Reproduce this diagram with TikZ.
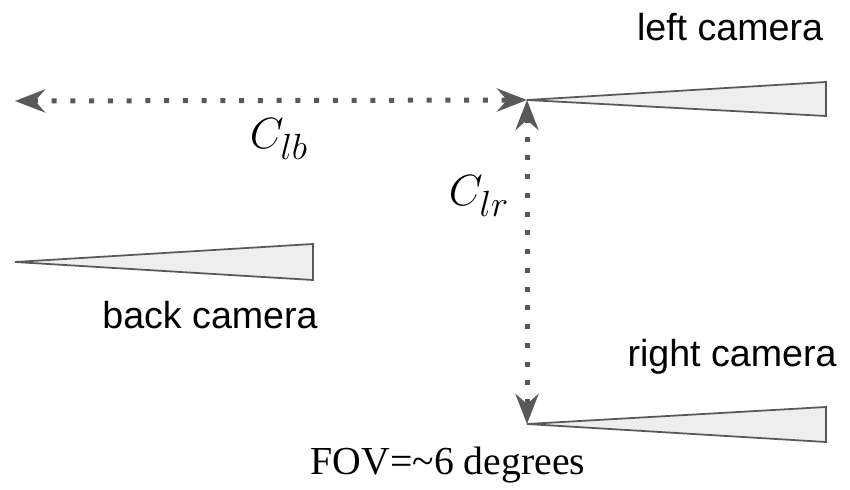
\documentclass[tikz,border=0pt]{standalone}
\usepackage{amsmath, amssymb}
\usepackage{xcolor}
\usepackage{fontspec}
\setmainfont{Liberation Sans}
\newfontfamily\fovfont{Liberation Serif}
\usetikzlibrary{arrows.meta, positioning, calc}
\definecolor{lensgray}{HTML}{595959}
\definecolor{lensfill}{HTML}{EEEEEE}
\tikzset{
  cone/.style={draw=lensgray, fill=lensfill, line width=1pt, line join=miter},
  baseline/.style={draw=lensgray, line width=0.1cm, dash pattern=on 0.1cm off 0.275cm,
    {Stealth[length=0.6cm, width=0.46cm, inset=0.2cm]}-{Stealth[length=0.6cm, width=0.46cm, inset=0.2cm]}},
  camlabel/.style={font=\fontsize{21.4}{24}\selectfont, inner sep=0pt},
  mathlabel/.style={font=\fontsize{28.6}{31}\selectfont, inner sep=0pt}
}
\begin{document}
\begin{tikzpicture}
      \useasboundingbox (0,0) rectangle (17,9.78);

      \coordinate (leftcam) at (10.54,7.78);
      \coordinate (backcam) at (0.30,4.54);
      \coordinate (rightcam) at (10.54,1.30);
      \coordinate (farend) at (0.30,7.76);

      \draw [cone] (leftcam) -- (16.52,8.14) -- (16.52,7.46) -- cycle;
      \draw [cone] (backcam) -- (6.26,4.90) -- (6.26,4.18) -- cycle;
      \draw [cone] (rightcam) -- (16.52,1.64) -- (16.52,0.94) -- cycle;

      \draw [baseline] (farend) -- (leftcam);
      \draw [baseline] (leftcam) -- (rightcam);

      \node [camlabel] (leftlabel) at (14.6,9.24) {left camera};
      \node [camlabel] (backlabel) at (4.2,3.48) {back camera};
      \node [camlabel] (rightlabel) at (14.64,2.64) {right camera};
      \node [mathlabel] (clb) at (5.58,7.0) {$C_{lb}$};
      \node [mathlabel] (clr) at (9.58,5.86) {$C_{lr}$};
      \node [inner sep=0pt, font=\fontsize{22.6}{25}\fovfont] (fov) at (8.96,0.47) {FOV=\textasciitilde 6 degrees};
    \end{tikzpicture}
\end{document}
